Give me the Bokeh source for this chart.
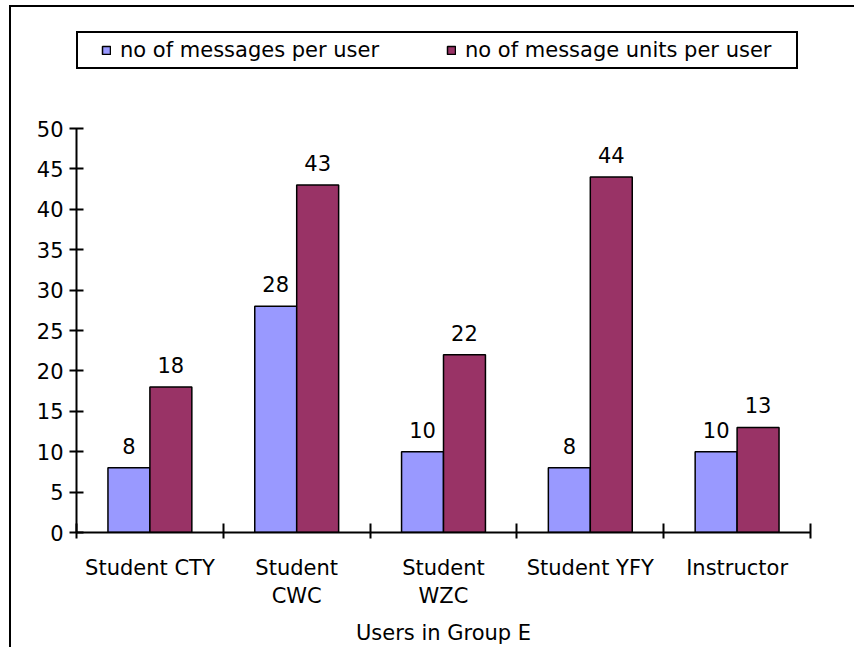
from bokeh.plotting import figure
from bokeh.models import (ColumnDataSource, Range1d, LinearAxis, FixedTicker,
                          Legend, LegendItem, LabelSet)
from bokeh.core.properties import value
from bokeh.embed import file_html
from bokeh.resources import INLINE

# ---- data ----
categories = ["Student CTY", "Student\nCWC", "Student\nWZC", "Student YFY", "Instructor"]
messages = [8, 28, 10, 8, 10]
units = [18, 43, 22, 44, 13]
y_ticks = [0, 5, 10, 15, 20, 25, 30, 35, 40, 45, 50]
series_names = ["no of messages per user", "no of message units per user"]
axis_title = "Users in Group E"

FONT = "DejaVu Sans"
FS = "21px"
BLUE = "#9999FF"
MAROON = "#993366"

# ---- layout (pixels) ----
W, H = 845, 642
ML, MR, MB = 65, 46, 117
frame_h = H - MB            # frame runs from the canvas top to the x axis
axis_h = 404                # pixel height of the 0..50 axis
y_max = y_ticks[-1]
y_end = y_max * frame_h / axis_h

n = len(categories)
centers = [i + 0.5 for i in range(n)]
bw = 2 / 7
src = ColumnDataSource(dict(
    x1=[c - bw / 2 for c in centers],
    x2=[c + bw / 2 for c in centers],
    m=messages,
    u=units,
    ml=[str(v) for v in messages],
    ul=[str(v) for v in units],
))

p = figure(width=W, height=H, x_range=Range1d(0, n), y_range=Range1d(0, y_end),
           output_backend="svg", toolbar_location=None,
           x_axis_type=None, y_axis_type=None,
           min_border_left=ML, min_border_top=0, min_border_right=MR,
           min_border_bottom=MB)
p.outline_line_color = None
p.background_fill_color = "white"
p.border_fill_color = "white"
p.styles = {"border-top": "2px solid black", "border-left": "2px solid black",
            "margin-top": "5px", "margin-left": "9px"}

yaxis = LinearAxis(ticker=FixedTicker(ticks=y_ticks, minor_ticks=[]),
                   bounds=(0, y_max),
                   major_tick_in=7, major_tick_out=7,
                   axis_line_width=2, major_tick_line_width=2,
                   major_label_text_font=FONT, major_label_text_font_size=FS,
                   major_label_text_color="black", major_label_standoff=6)
p.add_layout(yaxis, "left")

xaxis = LinearAxis(ticker=FixedTicker(ticks=list(range(n + 1)), minor_ticks=[]),
                   major_tick_in=9, major_tick_out=6,
                   axis_line_width=2, major_tick_line_width=2,
                   major_label_overrides={i: "" for i in range(n + 1)},
                   major_label_standoff=0)
p.add_layout(xaxis, "below")

xlab = LinearAxis(ticker=FixedTicker(ticks=centers, minor_ticks=[]),
                  axis_line_color=None, major_tick_line_color=None,
                  major_label_overrides={c: cat for c, cat in zip(centers, categories)},
                  major_label_standoff=11,
                  major_label_text_font=FONT, major_label_text_font_size=FS,
                  major_label_text_color="black",
                  axis_label=axis_title, axis_label_standoff=10,
                  axis_label_text_font=FONT, axis_label_text_font_size=FS,
                  axis_label_text_font_style="normal", axis_label_text_color="black")
p.add_layout(xlab, "below")

r1 = p.vbar(x="x1", top="m", bottom=0, width=bw, source=src,
            fill_color=BLUE, line_color="black", line_width=1.5)
r2 = p.vbar(x="x2", top="u", bottom=0, width=bw, source=src,
            fill_color=MAROON, line_color="black", line_width=1.5)

for xcol, ycol, tcol in (("x1", "m", "ml"), ("x2", "u", "ul")):
    p.add_layout(LabelSet(x=xcol, y=ycol, text=tcol, source=src,
                          y_offset=22, text_align="center", text_baseline="middle",
                          text_font=value(FONT), text_font_size=value(FS),
                          text_color="black"))

legend = Legend(items=[LegendItem(label=series_names[0], renderers=[r1]),
                       LegendItem(label=series_names[1], renderers=[r2])],
                orientation="horizontal", location=(0, 463), margin=0,
                padding=5, spacing=0, glyph_width=10, glyph_height=10,
                label_standoff=9, label_width=326,
                label_text_font=FONT, label_text_font_size=FS,
                label_text_color="black",
                border_line_color="black", border_line_width=2,
                border_line_alpha=1.0,
                background_fill_color="white",
                title=" ", title_location="left", title_standoff=2,
                title_text_font_size="14px")
p.add_layout(legend, "center")

open("out.html", "w").write(file_html(p, INLINE))
